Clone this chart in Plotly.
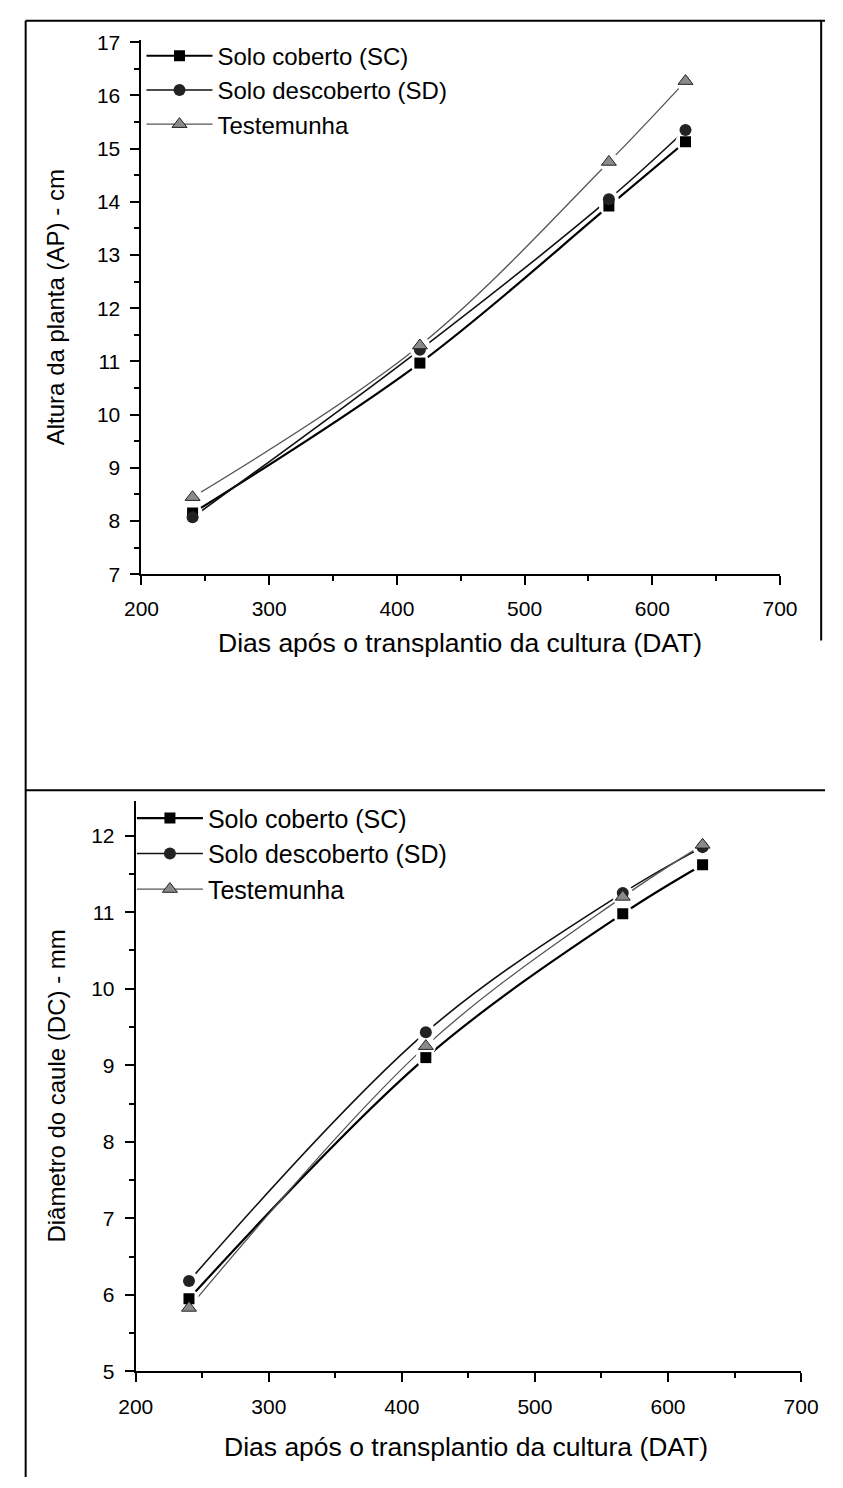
import plotly.graph_objects as go

# Days after transplanting (DAT)
dat = [240, 418, 566, 626]

# Plant height (AP), cm
ap_sc = [8.15, 10.97, 13.92, 15.13]
ap_sd = [8.07, 11.22, 14.05, 15.35]
ap_t = [8.45, 11.30, 14.75, 16.27]

# Stem diameter (DC), mm
dc_sc = [5.95, 9.10, 10.98, 11.62]
dc_sd = [6.18, 9.43, 11.25, 11.85]
dc_t = [5.83, 9.25, 11.20, 11.88]

series_names = ["Solo coberto (SC)", "Solo descoberto (SD)", "Testemunha"]

W, H = 843, 1488
FONT = "Liberation Sans, Arial, sans-serif"


def fx(px):
    return px / W


def fy(py):
    return 1 - py / H


styles = [
    dict(line=dict(color="#000000", width=2.2),
         marker=dict(symbol="square", size=11, color="#000000")),
    dict(line=dict(color="#111111", width=1.6),
         marker=dict(symbol="circle", size=12, color="#222222")),
    dict(line=dict(color="#555555", width=1.3),
         marker=dict(symbol="triangle-up", size=13, color="#8a8a8a",
                     line=dict(color="#222222", width=1))),
]

fig = go.Figure()


def add_panel(ys, xa, ya, legend):
    # smooth connecting curves
    for y, st in zip(ys, styles):
        fig.add_trace(go.Scatter(x=dat, y=y, mode="lines", line_shape="spline",
                                 line=st["line"], xaxis=xa, yaxis=ya,
                                 showlegend=False, hoverinfo="skip"))
    # white halos leave a small gap between curve and symbol
    for y in ys:
        fig.add_trace(go.Scatter(x=dat, y=y, mode="markers",
                                 marker=dict(symbol="circle", size=20, color="white"),
                                 xaxis=xa, yaxis=ya, showlegend=False, hoverinfo="skip"))
    for y, st in zip(ys, styles):
        fig.add_trace(go.Scatter(x=dat, y=y, mode="markers", marker=st["marker"],
                                 xaxis=xa, yaxis=ya, showlegend=False))
    # legend entries
    for name, st in zip(series_names, styles):
        fig.add_trace(go.Scatter(x=[None], y=[None], mode="lines+markers", name=name,
                                 line=st["line"], marker=st["marker"],
                                 xaxis=xa, yaxis=ya, legend=legend))


add_panel([ap_sc, ap_sd, ap_t], "x", "y", "legend")
add_panel([dc_sc, dc_sd, dc_t], "x2", "y2", "legend2")

axis_common = dict(showline=True, linecolor="black", linewidth=2, ticks="outside",
                   ticklen=9, tickwidth=2, tickcolor="black", showgrid=False,
                   zeroline=False, mirror=False, ticklabelstandoff=6,
                   tickfont=dict(family=FONT, size=21, color="black"))
minor_x = dict(dtick=50, ticks="outside", ticklen=5, tickcolor="black", tickwidth=1.5)
minor_y = dict(dtick=0.5, ticks="outside", ticklen=5, tickcolor="black", tickwidth=1.5)

fig.update_layout(
    width=W, height=H, autosize=False,
    margin=dict(l=0, r=0, t=0, b=0),
    paper_bgcolor="white", plot_bgcolor="white",
    font=dict(family=FONT, color="black"),
    xaxis=dict(domain=[fx(129), fx(796)], range=[200, 700], dtick=100, anchor="y",
               minor=minor_x, **axis_common),
    yaxis=dict(domain=[fy(573), fy(31)], range=[7, 17.05], dtick=1, anchor="x",
               minor=minor_y, **axis_common),
    xaxis2=dict(domain=[fx(123), fx(818)], range=[200, 700], dtick=100, anchor="y2",
                minor=minor_x, **axis_common),
    yaxis2=dict(domain=[fy(1381), fy(803)], range=[5, 12.45], dtick=1, anchor="x2",
                minor=minor_y, **axis_common),
    legend=dict(x=fx(129), y=fy(25), xanchor="left", yanchor="top", itemwidth=66,
                bgcolor="rgba(0,0,0,0)", font=dict(family=FONT, size=24, color="black"),
                traceorder="normal"),
    legend2=dict(x=fx(119), y=fy(797), xanchor="left", yanchor="top", itemwidth=66,
                 bgcolor="rgba(0,0,0,0)", font=dict(family=FONT, size=25, color="black"),
                 traceorder="normal"),
)

xtitle_font = dict(family=FONT, size=26.5, color="black")
ytitle_font = dict(family=FONT, size=24, color="black")
annotations = [
    dict(text="Dias após o transplantio da cultura (DAT)", x=fx(462), y=fy(643),
         xref="paper", yref="paper", showarrow=False, font=xtitle_font,
         xanchor="center", yanchor="middle"),
    dict(text="Altura da planta (AP) - cm", x=fx(40), y=fy(302), textangle=-90,
         xref="paper", yref="paper", showarrow=False, font=ytitle_font,
         xanchor="center", yanchor="middle"),
    dict(text="Dias após o transplantio da cultura (DAT)", x=fx(468), y=fy(1458),
         xref="paper", yref="paper", showarrow=False, font=xtitle_font,
         xanchor="center", yanchor="middle"),
    dict(text="Diâmetro do caule (DC) - mm", x=fx(40), y=fy(1092), textangle=-90,
         xref="paper", yref="paper", showarrow=False, font=ytitle_font,
         xanchor="center", yanchor="middle"),
]
fig.update_layout(annotations=annotations)

# page frame lines
frame = dict(color="black", width=2)
fig.update_layout(shapes=[
    dict(type="line", xref="paper", yref="paper", x0=fx(8), x1=1, y0=fy(12), y1=fy(12), line=frame),
    dict(type="line", xref="paper", yref="paper", x0=fx(8), x1=fx(8), y0=fy(12), y1=0, line=frame),
    dict(type="line", xref="paper", yref="paper", x0=fx(839), x1=fx(839), y0=fy(12), y1=fy(640), line=frame),
    dict(type="line", xref="paper", yref="paper", x0=fx(8), x1=1, y0=fy(792), y1=fy(792), line=frame),
])

fig.write_html("out.html")
